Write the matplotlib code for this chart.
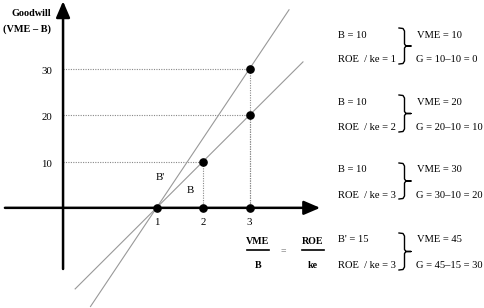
import matplotlib
matplotlib.use("Agg")
import matplotlib.pyplot as plt
import numpy as np

# ---- data ----
ratios = [1, 2, 3]                 # ROE / ke on x axis
goodwill_B10 = [0, 10, 20]         # G when B = 10
ratio_Bp = 3                       # ROE/ke for B' case
goodwill_Bp = 30                   # G when B' = 15
slope_B = 10                       # B
slope_Bp = 15                      # B'
y_ticks = [10, 20, 30]
x_ticks = [1, 2, 3]
left_lines = [("B = 10", "ROE  / ke = 1"),
              ("B = 10", "ROE  / ke = 2"),
              ("B = 10", "ROE  / ke = 3"),
              ("B' = 15", "ROE  / ke = 3")]
right_lines = [("VME = 10", "G = 10\u201310 = 0"),
               ("VME = 20", "G = 20\u201310 = 10"),
               ("VME = 30", "G = 30\u201310 = 20"),
               ("VME = 45", "G = 45\u201315 = 30")]

W, H = 484, 308
fig = plt.figure(figsize=(W / 100, H / 100), dpi=100)
ax = fig.add_axes([0, 0, 1, 1])
ax.set_xlim(-2.366, 8.043)
ax.set_ylim(-21.62, 44.86)
ax.axis("off")

serif = "Liberation Serif"

def P(x, y):
    """pixel (from top-left) -> axes fraction"""
    return x / W, 1 - y / H

# axes with arrows
ax.annotate("", xy=(4.52, 0), xytext=(-2.26, 0),
            arrowprops=dict(arrowstyle="-|>,head_length=0.7,head_width=0.3",
                            lw=1.8, color="black", shrinkA=0, shrinkB=0,
                            mutation_scale=14))
ax.annotate("", xy=(-1.01, 44.6), xytext=(-1.01, -13.2),
            arrowprops=dict(arrowstyle="-|>,head_length=0.7,head_width=0.3",
                            lw=1.8, color="black", shrinkA=0, shrinkB=0,
                            mutation_scale=14))

# lines G = B (r - 1)
r1 = np.array([-0.75, 4.15])
ax.plot(r1, slope_B * (r1 - 1), color="#999999", lw=0.8, zorder=2)
r2 = np.array([-0.42, 3.85])
ax.plot(r2, slope_Bp * (r2 - 1), color="#999999", lw=0.8, zorder=2)

# dotted guides
dot_style = dict(color="#888888", lw=0.8, linestyle=(0, (1, 1.2)), zorder=1)
guide_pts = [(ratios[1], goodwill_B10[1]), (ratios[2], goodwill_B10[2]), (ratio_Bp, goodwill_Bp)]
for rx, gy in guide_pts:
    ax.plot([-1.01, rx], [gy, gy], **dot_style)
    ax.plot([rx, rx], [0, gy], **dot_style)

# points
ax.plot(ratios, [0, 0, 0], "o", color="black", ms=5.2, zorder=4)
ax.plot(ratios[1:], goodwill_B10[1:], "o", color="black", ms=5.2, zorder=4)
ax.plot([ratio_Bp], [goodwill_Bp], "o", color="black", ms=5.2, zorder=4)

# tick labels
for t in x_ticks:
    ax.text(t, -3.2, str(t), ha="center", va="center", fontsize=7.8, family=serif)
for t in y_ticks:
    ax.text(-1.25, t - 0.6, str(t), ha="right", va="center", fontsize=7.8, family=serif)

# line labels
ax.text(1.08, 6.6, "B'", ha="center", va="center", fontsize=7.8, family=serif)
ax.text(1.72, 3.8, "B", ha="center", va="center", fontsize=7.8, family=serif)

# y axis title
ax.text(*P(31, 14), "Goodwill", transform=ax.transAxes, ha="center", va="center",
        fontsize=7.4, family=serif, fontweight="bold")
ax.text(*P(27, 29), "(VME \u2013 B)", transform=ax.transAxes, ha="center", va="center",
        fontsize=7.4, family=serif, fontweight="bold")

# fraction VME/B = ROE/ke
fs_frac = 7.2
for cx, num, den in [(258, "VME", "B"), (313, "ROE", "ke")]:
    ax.text(*P(cx, 241), num, transform=ax.transAxes, ha="center", va="center",
            fontsize=fs_frac, family=serif, fontweight="bold")
    ax.text(*P(cx, 266), den, transform=ax.transAxes, ha="center", va="center",
            fontsize=fs_frac, family=serif, fontweight="bold")
    x0, y0 = P(cx - 11, 250)
    x1, _ = P(cx + 11, 250)
    ax.plot([x0, x1], [y0, y0], transform=ax.transAxes, color="black", lw=1.2)
ax.text(*P(283, 251), "=", transform=ax.transAxes, ha="center", va="center",
        fontsize=7, family=serif, color="#666666")

# right-hand blocks
block_y = [(35, 60), (102, 128), (170, 195), (240, 266)]
for (l1, l2), (r1t, r2t), (ya, yb) in zip(left_lines, right_lines, block_y):
    ax.text(*P(338, ya), l1, transform=ax.transAxes, ha="left", va="center",
            fontsize=7.6, family=serif)
    ax.text(*P(338, yb), l2, transform=ax.transAxes, ha="left", va="center",
            fontsize=7.6, family=serif)
    ax.text(*P(417, ya), r1t, transform=ax.transAxes, ha="left", va="center",
            fontsize=7.6, family=serif)
    ax.text(*P(416, yb), r2t, transform=ax.transAxes, ha="left", va="center",
            fontsize=7.6, family=serif)
    top, bot = ya - 7, yb + 4
    mid = (top + bot) / 2
    pts = [(399, top), (403, top + 0.5), (404.5, top + 3), (404.5, mid - 2),
           (406, mid), (411, mid), (406, mid), (404.5, mid + 2),
           (404.5, bot - 3), (403, bot - 0.5), (399, bot)]
    xs, ys = zip(*[P(px, py) for px, py in pts])
    ax.plot(xs, ys, transform=ax.transAxes, color="black", lw=1.0)

fig.savefig("out.png", dpi=100)
